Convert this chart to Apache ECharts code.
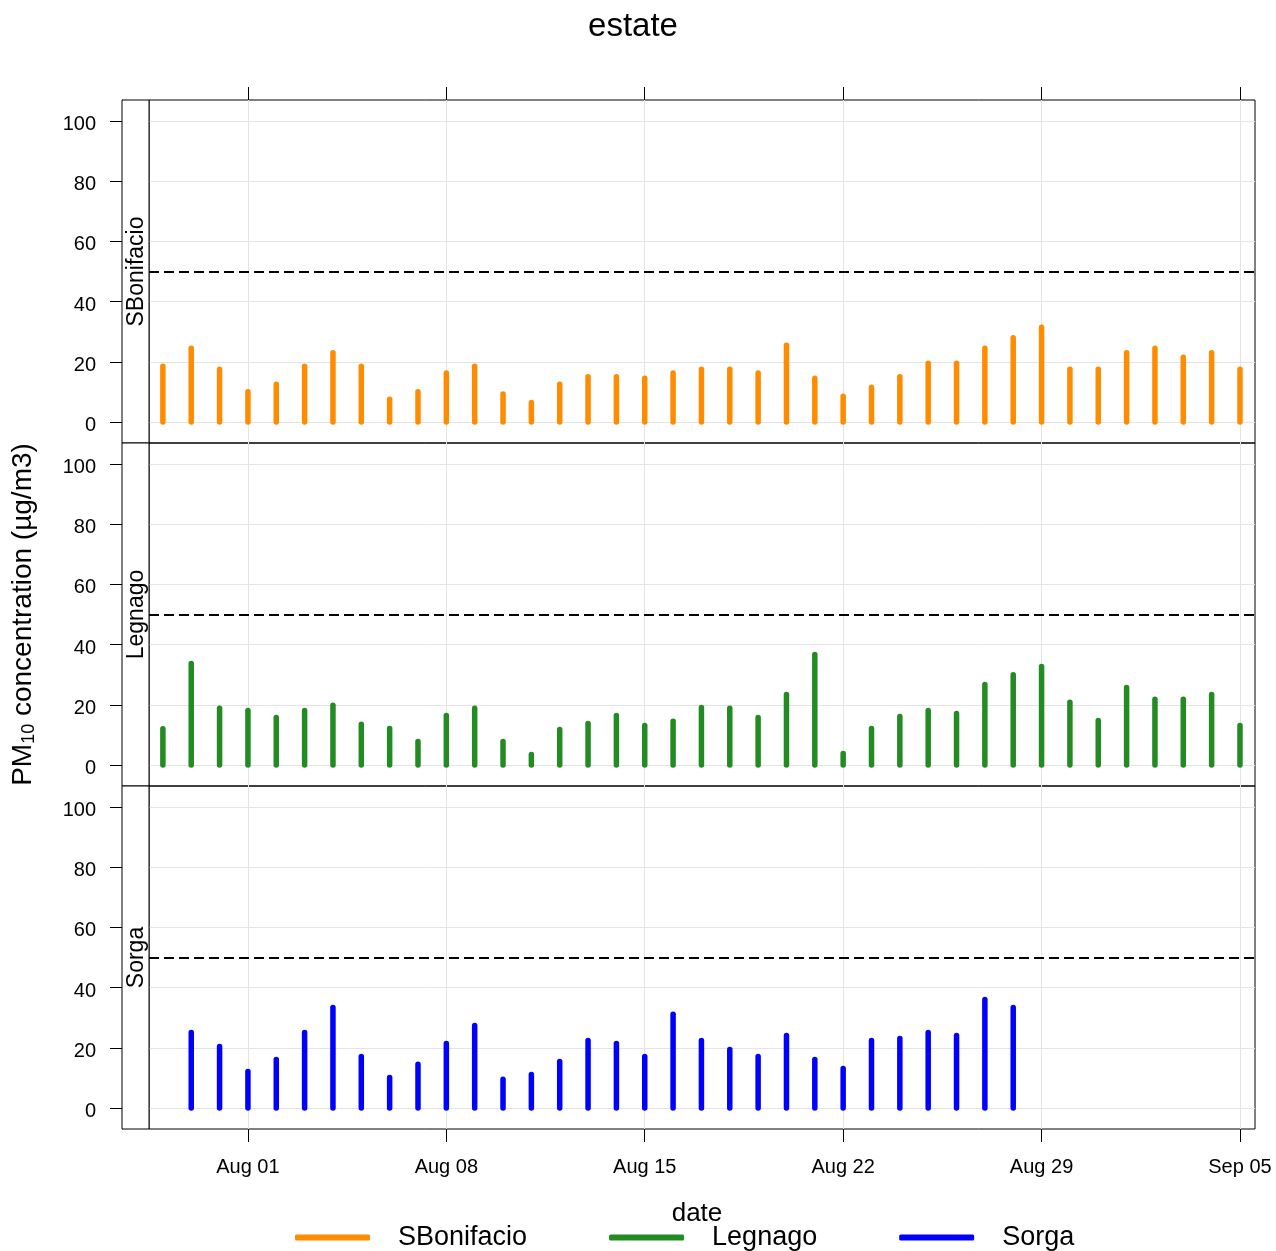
<!DOCTYPE html>
<html>
<head>
<meta charset="utf-8">
<script src="https://cdn.jsdelivr.net/npm/echarts@6/dist/echarts.min.js"></script>
<style>
  html, body { margin: 0; padding: 0; background: #fff; }
  #chart { width: 1276px; height: 1251px; }
</style>
</head>
<body>
<div id="chart"></div>
<script>
// Daily PM10 means, summer period, three monitoring sites
const dates = [
  '2019-07-29', '2019-07-30', '2019-07-31', '2019-08-01', '2019-08-02', '2019-08-03',
  '2019-08-04', '2019-08-05', '2019-08-06', '2019-08-07', '2019-08-08', '2019-08-09',
  '2019-08-10', '2019-08-11', '2019-08-12', '2019-08-13', '2019-08-14', '2019-08-15',
  '2019-08-16', '2019-08-17', '2019-08-18', '2019-08-19', '2019-08-20', '2019-08-21',
  '2019-08-22', '2019-08-23', '2019-08-24', '2019-08-25', '2019-08-26', '2019-08-27',
  '2019-08-28', '2019-08-29', '2019-08-30', '2019-08-31', '2019-09-01', '2019-09-02',
  '2019-09-03', '2019-09-04', '2019-09-05'
];

const sBonifacio = [
  18.5, 24.5, 17.5, 10, 12.5, 18.5, 23, 18.5, 7.5, 10,
  16.3, 18.5, 9.3, 6.5, 12.5, 15, 15, 14.5, 16.3, 17.5,
  17.5, 16.3, 25.5, 14.5, 8.5, 11.5, 15, 19.5, 19.5, 24.5,
  28, 31.5, 17.5, 17.5, 23, 24.5, 21.5, 23, 17.5
];

const legnago = [
  12, 33.7, 18.8, 18.1, 15.8, 18.1, 19.8, 13.5, 12.1, 7.8,
  16.4, 18.8, 7.8, 3.5, 11.8, 13.8, 16.4, 13.1, 14.5, 19.1,
  18.8, 15.8, 23.4, 36.7, 3.8, 12.1, 16.1, 18.1, 17.1, 26.7,
  30, 32.7, 20.8, 14.8, 25.7, 21.8, 21.8, 23.4, 13.1
];

const sorga = [
  null, 25.1, 20.4, 12.1, 16.1, 25.1, 33.4, 17.1, 10.1, 14.5,
  21.4, 27.4, 9.5, 11.1, 15.4, 22.4, 21.4, 17.1, 31.1, 22.4,
  19.4, 17.1, 24.1, 16.1, 13.1, 22.4, 23.1, 25.1, 24.1, 36,
  33.4, null, null, null, null, null, null, null, null
];

const siteNames = ['SBonifacio', 'Legnago', 'Sorga'];
const siteColors = ['#FF8C00', '#228B22', '#0000FF'];
const siteValues = [sBonifacio, legnago, sorga];

const dateTicks = ['2019-08-01', '2019-08-08', '2019-08-15', '2019-08-22', '2019-08-29', '2019-09-05'];
const yTicks = [0, 20, 40, 60, 80, 100];
const limitValue = 50;   // daily PM10 limit

// the x axis counts days from the first date
const monthNames = ['Jan', 'Feb', 'Mar', 'Apr', 'May', 'Jun', 'Jul', 'Aug', 'Sep', 'Oct', 'Nov', 'Dec'];
const DAY = 86400000;
const utc = s => { const p = s.split('-').map(Number); return Date.UTC(p[0], p[1] - 1, p[2]); };
const origin = utc(dates[0]);
const dayOf = s => Math.round((utc(s) - origin) / DAY);
const fmtDay = v => {
  const d = new Date(origin + Math.round(v) * DAY);
  return monthNames[d.getUTCMonth()] + ' ' + String(d.getUTCDate()).padStart(2, '0');
};
const xMin = dayOf(dates[0]) - 0.49;
const xMax = dayOf(dates[dates.length - 1]) + 0.53;
const xTicks = dateTicks.map(dayOf);

const FONT = "'Liberation Sans', Arial, sans-serif";
const panelTop = [100, 443, 786];
const panelH = 343;
const stripLeft = 122, plotLeft = 149, plotRight = 21;

const grids = [], xAxes = [], yAxes = [], series = [], graphics = [];

siteNames.forEach((name, i) => {
  grids.push({
    left: plotLeft, right: plotRight, top: panelTop[i], height: panelH,
    show: true, borderColor: '#000', borderWidth: 1, backgroundColor: 'transparent'
  });

  xAxes.push({
    type: 'value', gridIndex: i, min: xMin, max: xMax,
    position: i === 0 ? 'top' : 'bottom',
    axisLine: { show: false, onZero: false },
    axisTick: { show: i !== 1, length: 13, customValues: xTicks, lineStyle: { color: '#000', width: 1 } },
    axisLabel: {
      show: i === 2, customValues: xTicks, formatter: v => fmtDay(v),
      fontSize: 20, color: '#000', fontFamily: FONT, margin: 28
    },
    splitLine: { show: true, lineStyle: { color: '#e4e4e4', width: 1 } },
    name: i === 2 ? 'date' : '',
    nameLocation: 'middle', nameGap: 72,
    nameTextStyle: { fontSize: 26, color: '#000', fontFamily: FONT, padding: [0, 10, 0, 0] }
  });

  yAxes.push({
    type: 'value', gridIndex: i, min: -7, max: 107, offset: plotLeft - stripLeft,
    axisLine: { show: true, onZero: false, lineStyle: { color: '#000', width: 1 } },
    axisTick: { show: true, length: 12, customValues: yTicks, lineStyle: { color: '#000', width: 1 } },
    axisLabel: {
      customValues: yTicks, margin: 26,
      formatter: v => '{v|' + v + '}',
      rich: { v: { fontSize: 20, color: '#000', fontFamily: FONT, padding: [7, 0, 0, 0] } }
    },
    splitLine: { show: true, lineStyle: { color: '#e4e4e4', width: 1 } },
    name: i === 1 ? '{a|PM}{s|10}{a| concentration (µg/m3)}' : '',
    nameLocation: 'middle', nameRotate: 90, nameGap: 84,
    nameTextStyle: {
      fontFamily: FONT, color: '#000',
      rich: {
        a: { fontSize: 28, fontFamily: FONT, color: '#000' },
        s: { fontSize: 18, fontFamily: FONT, color: '#000', verticalAlign: 'bottom', padding: [11, 0, 0, 0] }
      }
    }
  });

  const vals = siteValues[i];
  series.push({
    name: name, type: 'custom', xAxisIndex: i, yAxisIndex: i,
    itemStyle: { color: siteColors[i] },
    data: dates.map((d, j) => [dayOf(d), vals[j]]).filter(p => p[1] != null),
    renderItem: (params, api) => {
      const base = api.coord([api.value(0), 0]);
      const top = api.coord([api.value(0), api.value(1)]);
      return {
        type: 'line',
        shape: { x1: base[0], y1: base[1], x2: top[0], y2: top[1] },
        style: { stroke: siteColors[i], lineWidth: 5.5, lineCap: 'round' }
      };
    },
    markLine: {
      silent: true, symbol: 'none', animation: false,
      label: { show: false },
      lineStyle: { color: '#000', type: [10, 5], width: 1.8 },
      data: [{ yAxis: limitValue }]
    },
    animation: false
  });

  // strip with the site name, to the left of each panel
  graphics.push({
    type: 'rect', z: 10,
    shape: { x: stripLeft, y: panelTop[i], width: plotLeft - stripLeft, height: panelH },
    style: { fill: '#fff', stroke: '#000', lineWidth: 1 }
  });
  graphics.push({
    type: 'text', z: 11,
    x: 137, y: panelTop[i] + panelH / 2, rotation: Math.PI / 2,
    style: { text: name, fontSize: 23, fontFamily: FONT, fill: '#000', textAlign: 'center', textVerticalAlign: 'middle' }
  });
});

const chart = echarts.init(document.getElementById('chart'), null, { renderer: 'canvas' });
chart.setOption({
  backgroundColor: '#fff',
  animation: false,
  title: {
    text: 'estate', left: 628, textAlign: 'center', top: 5,
    textStyle: { fontSize: 33, fontWeight: 'normal', color: '#000', fontFamily: FONT }
  },
  legend: {
    left: 295, top: 1224, padding: 0, itemWidth: 75, itemHeight: 6, itemGap: 82, icon: 'roundRect',
    selectedMode: false,
    textStyle: { fontSize: 27, color: '#000', fontFamily: FONT, padding: [0, 0, 0, 23] },
    data: siteNames
  },
  grid: grids,
  xAxis: xAxes,
  yAxis: yAxes,
  series: series,
  graphic: graphics
});
</script>
</body>
</html>
